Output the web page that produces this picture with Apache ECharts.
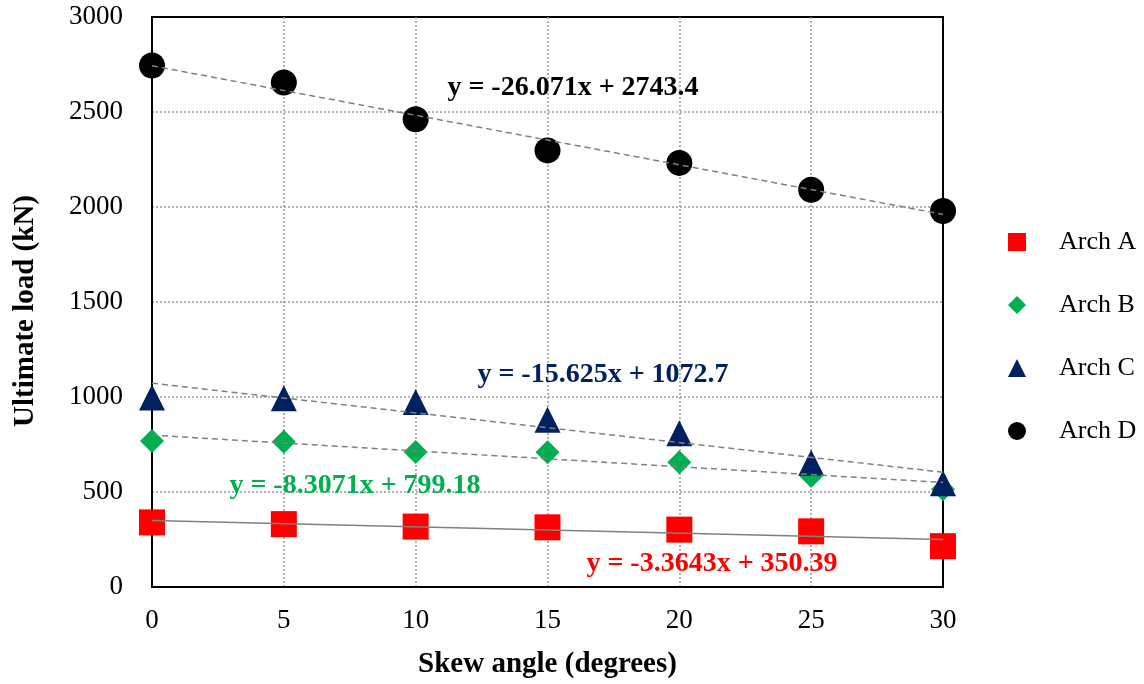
<!DOCTYPE html>
<html>
<head>
<meta charset="utf-8">
<script src="https://cdn.jsdelivr.net/npm/echarts@6/dist/echarts.min.js"></script>
<style>
    html, body { margin: 0; padding: 0; background: #fff; }
    #main { width: 1144px; height: 684px; }
</style>
</head>
<body>
<div id="main"></div>
<script>
// skew angles
var angles = [0, 5, 10, 15, 20, 25, 30];
// ultimate load (kN)
var archA = [340, 331, 318, 314, 302, 293, 215];
var archB = [768, 765, 711, 709, 656, 584, 514];
var archC = [997, 994, 974, 880, 809, 654, 546];
var archD = [2745, 2655, 2462, 2298, 2232, 2091, 1979];
// trend line end points [x, y]
var trendA = [[0, 350.39], [30, 249.46]];
var trendB = [[0, 799.18], [30, 549.97]];
var trendC = [[0, 1072.7], [30, 603.95]];
var trendD = [[0, 2743.4], [30, 1961.3]];
var names = ['Arch A', 'Arch B', 'Arch C', 'Arch D'];

var serif = '"Liberation Serif", "DejaVu Serif", serif';

function pts(vals) {
    var out = [];
    for (var i = 0; i < angles.length; i++) {
        out.push([angles[i], vals[i]]);
    }
    return out;
}

// 散点
function pointSeries(name, vals, symbol, size, color) {
    return {
        name: name,
        type: 'scatter',
        data: pts(vals),
        symbol: symbol,
        symbolSize: size,
        itemStyle: { color: color, opacity: 1 },
        z: 3
    };
}

// 趋势线
function trendSeries(data, dashed) {
    return {
        type: 'line',
        data: data,
        showSymbol: false,
        silent: true,
        lineStyle: { color: '#808080', width: 1.5, type: dashed ? [6, 4] : 'solid' },
        z: 4
    };
}

function eqText(x, y, text, color) {
    return {
        type: 'text',
        x: x,
        y: y,
        style: {
            text: text,
            fill: color,
            font: 'bold 28px ' + serif,
            align: 'center',
            verticalAlign: 'middle'
        },
        z: 10
    };
}

var axisLabel = {
    fontFamily: serif, fontSize: 27, color: '#000',
    formatter: function (v) { return String(v); }
};
var split = { showMinLine: false, showMaxLine: false, lineStyle: { color: '#999', type: [2, 2], width: 1.5 } };

var chart = echarts.init(document.getElementById('main'));
chart.setOption({
    animation: false,
    backgroundColor: '#fff',
    grid: {
        left: 152, right: 201, top: 17, bottom: 97,
        outerBoundsMode: 'none',
        containLabel: false,
        show: true, borderColor: '#000', borderWidth: 2
    },
    legend: {
        data: names,
        orient: 'vertical',
        left: 1003,
        top: 224,
        itemWidth: 18,
        itemHeight: 18,
        itemGap: 37,
        textStyle: { fontFamily: serif, fontSize: 26, lineHeight: 26, color: '#000', padding: [0, 0, 0, 28] }
    },
    xAxis: {
        type: 'value',
        min: 0, max: 30, interval: 5,
        name: 'Skew angle (degrees)',
        nameLocation: 'middle',
        nameGap: 63,
        nameTextStyle: { fontFamily: serif, fontSize: 29, fontWeight: 'bold', color: '#000' },
        axisLine: { lineStyle: { color: '#000', width: 2 } },
        axisTick: { show: false },
        axisLabel: Object.assign({ margin: 20 }, axisLabel),
        splitLine: split
    },
    yAxis: {
        type: 'value',
        min: 0, max: 3000, interval: 500,
        name: 'Ultimate load (kN)',
        nameLocation: 'middle',
        nameGap: 112,
        nameRotate: 90,
        nameTextStyle: { fontFamily: serif, fontSize: 29, fontWeight: 'bold', color: '#000', padding: [0, 18, 0, 0] },
        axisLine: { lineStyle: { color: '#000', width: 2 } },
        axisTick: { show: false },
        axisLabel: Object.assign({ margin: 29 }, axisLabel),
        splitLine: split
    },
    series: [
        pointSeries('Arch A', archA, 'rect', 26, '#FF0000'),
        pointSeries('Arch B', archB, 'diamond', 24, '#00B050'),
        pointSeries('Arch C', archC, 'triangle', 26, '#002060'),
        pointSeries('Arch D', archD, 'circle', 26, '#000000'),
        trendSeries(trendA, false),
        trendSeries(trendB, true),
        trendSeries(trendC, true),
        trendSeries(trendD, true)
    ],
    graphic: [
        eqText(573, 88, 'y = -26.071x + 2743.4', '#000000'),
        eqText(603, 375, 'y = -15.625x + 1072.7', '#002060'),
        eqText(355, 486, 'y = -8.3071x + 799.18', '#00B050'),
        eqText(712, 564, 'y = -3.3643x + 350.39', '#FF0000')
    ]
});
</script>
</body>
</html>
